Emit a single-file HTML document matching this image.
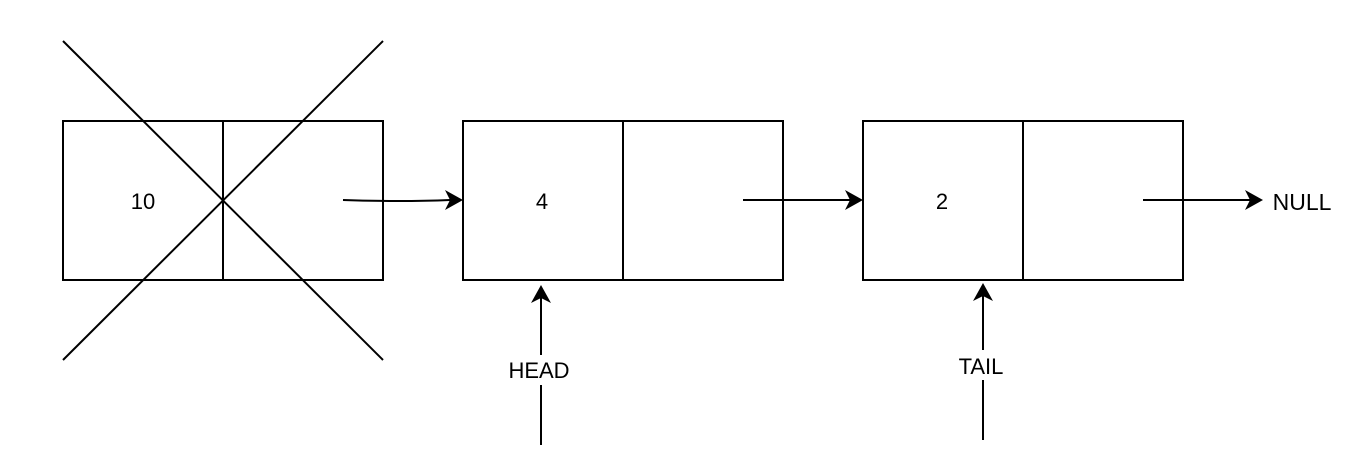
<!DOCTYPE html>
<html><head><style>body{margin:0;background:#fff}svg{display:block}</style></head>
<body>
<svg width="1368" height="470" viewBox="0 0 1368 470" xmlns="http://www.w3.org/2000/svg" font-family="Liberation Sans, Arial, sans-serif">
<g fill="none" stroke="#000" stroke-width="2">
<rect x="63" y="121" width="320" height="159"/><line x1="223" y1="121" x2="223" y2="280"/>
<rect x="463" y="121" width="320" height="159"/><line x1="623" y1="121" x2="623" y2="280"/>
<rect x="863" y="121" width="320" height="159"/><line x1="1023" y1="121" x2="1023" y2="280"/>
<line x1="63" y1="41" x2="383" y2="360"/><line x1="383" y1="41" x2="63" y2="360"/>
<path d="M343 200 Q400 202 450 200"/>
<line x1="743" y1="200" x2="850" y2="200"/>
<line x1="1143" y1="200" x2="1250" y2="200"/>
<line x1="541" y1="445" x2="541" y2="385"/><line x1="541" y1="355" x2="541" y2="298"/>
<line x1="983" y1="440" x2="983" y2="380"/><line x1="983" y1="350" x2="983" y2="296"/>
</g>
<g fill="#000">
<path d="M463 200 L445 190 L450 200 L445 210 Z"/>
<path d="M863 200 L845 190 L850 200 L845 210 Z"/>
<path d="M1263 200 L1245 190 L1250 200 L1245 210 Z"/>
<path d="M541 285 L531 303 L541 298 L551 303 Z"/>
<path d="M983 283 L973 301 L983 296 L993 301 Z"/>
</g>
<g font-size="22" text-anchor="middle">
<text x="143" y="209">10</text>
<text x="542" y="209">4</text>
<text x="942" y="209">2</text>
<text x="1302" y="210" font-size="23">NULL</text>
<text x="539" y="378">HEAD</text>
<text x="981" y="374">TAIL</text>
</g>
</svg>
</body></html>
